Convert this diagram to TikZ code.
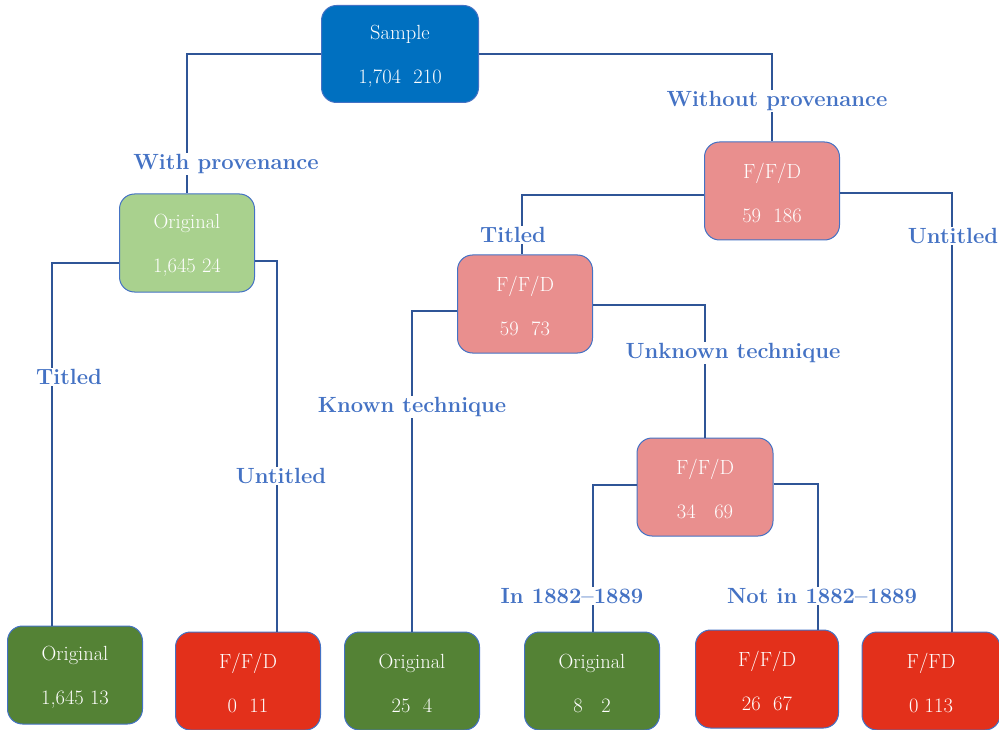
\documentclass[tikz,border=0pt]{standalone}
\definecolor{sampleblue}{HTML}{0070C0}
\definecolor{lightgreen}{HTML}{A9D18E}
\definecolor{darkgreen}{HTML}{548235}
\definecolor{pinkred}{HTML}{E98F8E}
\definecolor{brightred}{HTML}{E3301B}
\definecolor{edgeblue}{HTML}{4472C4}
\definecolor{linkblue}{HTML}{2F5597}
\definecolor{labelblue}{HTML}{4472C4}
\tikzset{
  box/.style={draw=edgeblue, line width=1pt, rounded corners=15pt,
    minimum width=135pt, minimum height=98pt, inner sep=0pt,
    text=white, align=center, font=\fontsize{20.5}{44}\selectfont},
  samplebox/.style={box, fill=sampleblue, minimum width=157pt, minimum height=97pt},
  lgbox/.style={box, fill=lightgreen},
  dgbox/.style={box, fill=darkgreen},
  pinkbox/.style={box, fill=pinkred},
  redbox/.style={box, fill=brightred},
  link/.style={draw=linkblue, line width=1.4pt},
  branch/.style={fill=white, text=labelblue, inner sep=1pt,
    font=\fontsize{22}{24}\selectfont\bfseries},
}
% strut on the first line sets the two text lines a little below the box centre
\newcommand{\topstrut}{\rule{0pt}{19pt}}
\begin{document}
\begin{tikzpicture}[x=1pt, y=-1pt]
\useasboundingbox (0,0) rectangle (999,730);

% decision nodes
\node[samplebox] (sample) at (400,54) {\topstrut Sample\\1,704~~210};
\node[lgbox]   (orig)  at (187,243) {\topstrut Original\\1,645 24};
\node[pinkbox] (ffdA)  at (772,191) {\topstrut F/F/D\\59~~186};
\node[pinkbox] (ffdB)  at (525,304) {\topstrut F/F/D\\59~~73};
\node[pinkbox, minimum width=136pt] (ffdC) at (705,487) {\topstrut F/F/D\\34~~~69};

% leaves
\node[dgbox] (leafA) at (75,675) {\topstrut Original\\1,645 13};
\node[redbox, minimum width=145pt] (leafB) at (248,681) {\topstrut F/F/D\\0~~11};
\node[dgbox] (leafC) at (412,681) {\topstrut Original\\25~~4};
\node[dgbox] (leafD) at (592,681) {\topstrut Original\\8~~~2};
\node[redbox, minimum width=143pt] (leafE) at (767,679) {\topstrut F/F/D\\26~~67};
\node[redbox, minimum width=138pt] (leafF) at (931,681) {\topstrut F/FD\\0 113};

% connectors
\draw[link] (sample.west) -| (orig.north);
\draw[link] (sample.east) -| (ffdA.north);
\draw[link] ([yshift=-20pt]orig.west) -| ([xshift=-23pt]leafA.north);
\draw[link] ([yshift=-18pt]orig.east) -| ([xshift=29pt]leafB.north);
\draw[link] ([yshift=-4pt]ffdA.west) -| ([xshift=-3pt]ffdB.north);
\draw[link] ([yshift=-2pt]ffdA.east) -| ([xshift=21pt]leafF.north);
\draw[link] ([yshift=-7pt]ffdB.west) -| (leafC.north);
\draw[link] ([yshift=-1pt]ffdB.east) -| (ffdC.north);
\draw[link] ([yshift=2pt]ffdC.west) -| ([xshift=1pt]leafD.north);
\draw[link] ([yshift=3pt]ffdC.east) -| ([xshift=51pt]leafE.north);

% branch labels
\node[branch] (lWith)    at (226,164) {With provenance};
\node[branch] (lWithout) at (777,101) {Without provenance};
\node[branch] (lTitA)    at (69,377)  {Titled};
\node[branch] (lUntA)    at (281,476) {Untitled};
\node[branch] (lTitB)    at (513,235) {Titled};
\node[branch] (lUntB)    at (953,236) {Untitled};
\node[branch] (lKnown)   at (412,407) {Known technique};
\node[branch] (lUnknown) at (733,353) {Unknown technique};
\node[branch] (lIn)      at (572,596) {In 1882--1889};
\node[branch] (lNotIn)   at (822,596) {Not in 1882--1889};
\end{tikzpicture}
\end{document}
